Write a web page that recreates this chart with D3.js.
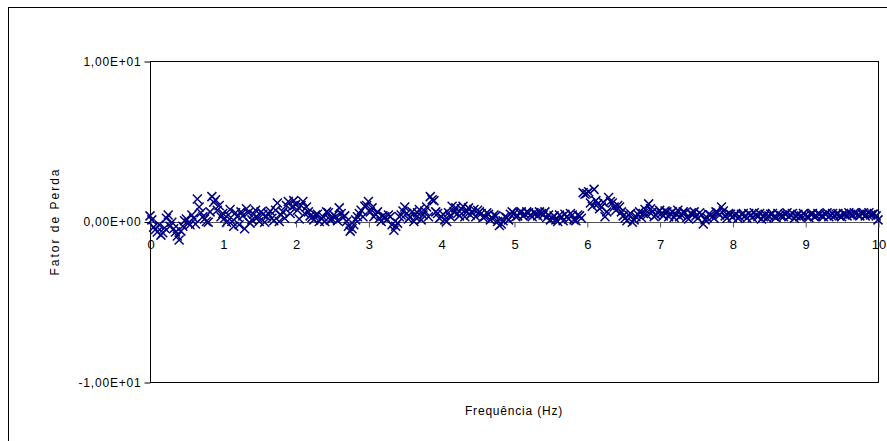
<!DOCTYPE html>
<html>
<head>
<meta charset="utf-8">
<script src="https://cdn.jsdelivr.net/npm/d3@7"></script>
<style>
  html, body { margin: 0; padding: 0; background: #fff; }
  svg { display: block; }
  text { font-family: Arial, "Liberation Sans", sans-serif; fill: #000; }
</style>
</head>
<body>
<svg id="chart" width="887" height="441"></svg>
<script>
// ---- data ----
const freq = [
  0.000,0.025,0.050,0.075,0.100,0.125,0.150,0.175,0.200,0.225,0.250,0.275,0.300,0.325,0.350,0.375,0.400,0.425,0.450,0.475,
  0.500,0.525,0.550,0.575,0.600,0.625,0.650,0.675,0.700,0.725,0.750,0.775,0.800,0.825,0.850,0.875,0.900,0.925,0.950,0.975,
  1.000,1.025,1.050,1.075,1.100,1.125,1.150,1.175,1.200,1.225,1.250,1.275,1.300,1.325,1.350,1.375,1.400,1.425,1.450,1.475,
  1.500,1.525,1.550,1.575,1.600,1.625,1.650,1.675,1.700,1.725,1.750,1.775,1.800,1.825,1.850,1.875,1.900,1.925,1.950,1.975,
  2.000,2.025,2.050,2.075,2.100,2.125,2.150,2.175,2.200,2.225,2.250,2.275,2.300,2.325,2.350,2.375,2.400,2.425,2.450,2.475,
  2.500,2.525,2.550,2.575,2.600,2.625,2.650,2.675,2.700,2.725,2.750,2.775,2.800,2.825,2.850,2.875,2.900,2.925,2.950,2.975,
  3.000,3.025,3.050,3.075,3.100,3.125,3.150,3.175,3.200,3.225,3.250,3.275,3.300,3.325,3.350,3.375,3.400,3.425,3.450,3.475,
  3.500,3.525,3.550,3.575,3.600,3.625,3.650,3.675,3.700,3.725,3.750,3.775,3.800,3.825,3.850,3.875,3.900,3.925,3.950,3.975,
  4.000,4.025,4.050,4.075,4.100,4.125,4.150,4.175,4.200,4.225,4.250,4.275,4.300,4.325,4.350,4.375,4.400,4.425,4.450,4.475,
  4.500,4.525,4.550,4.575,4.600,4.625,4.650,4.675,4.700,4.725,4.750,4.775,4.800,4.825,4.850,4.875,4.900,4.925,4.950,4.975,
  5.000,5.025,5.050,5.075,5.100,5.125,5.150,5.175,5.200,5.225,5.250,5.275,5.300,5.325,5.350,5.375,5.400,5.425,5.450,5.475,
  5.500,5.525,5.550,5.575,5.600,5.625,5.650,5.675,5.700,5.725,5.750,5.775,5.800,5.825,5.850,5.875,5.900,5.925,5.950,5.975,
  6.000,6.025,6.050,6.075,6.100,6.125,6.150,6.175,6.200,6.225,6.250,6.275,6.300,6.325,6.350,6.375,6.400,6.425,6.450,6.475,
  6.500,6.525,6.550,6.575,6.600,6.625,6.650,6.675,6.700,6.725,6.750,6.775,6.800,6.825,6.850,6.875,6.900,6.925,6.950,6.975,
  7.000,7.025,7.050,7.075,7.100,7.125,7.150,7.175,7.200,7.225,7.250,7.275,7.300,7.325,7.350,7.375,7.400,7.425,7.450,7.475,
  7.500,7.525,7.550,7.575,7.600,7.625,7.650,7.675,7.700,7.725,7.750,7.775,7.800,7.825,7.850,7.875,7.900,7.925,7.950,7.975,
  8.000,8.025,8.050,8.075,8.100,8.125,8.150,8.175,8.200,8.225,8.250,8.275,8.300,8.325,8.350,8.375,8.400,8.425,8.450,8.475,
  8.500,8.525,8.550,8.575,8.600,8.625,8.650,8.675,8.700,8.725,8.750,8.775,8.800,8.825,8.850,8.875,8.900,8.925,8.950,8.975,
  9.000,9.025,9.050,9.075,9.100,9.125,9.150,9.175,9.200,9.225,9.250,9.275,9.300,9.325,9.350,9.375,9.400,9.425,9.450,9.475,
  9.500,9.525,9.550,9.575,9.600,9.625,9.650,9.675,9.700,9.725,9.750,9.775,9.800,9.825,9.850,9.875,9.900,9.925,9.950,9.975,
  10.000
];
const lossFactor = [
  0.35,0.10,-0.35,-0.50,-0.65,-0.20,-0.85,-0.70,-0.40,0.20,0.40,-0.30,-0.05,-0.45,-0.65,-0.90,-1.15,-0.60,-0.30,0.05,
  0.15,-0.10,-0.20,0.40,0.20,-0.15,1.40,0.90,0.55,0.30,0.15,0.00,-0.05,0.60,1.55,1.20,1.35,0.70,1.00,0.30,
  0.50,0.20,-0.05,0.40,0.75,0.00,-0.30,0.55,0.30,-0.20,0.60,0.35,-0.45,0.80,0.55,-0.10,0.10,0.45,0.70,0.25,
  0.00,0.60,0.45,-0.05,0.30,0.50,0.65,0.20,0.05,0.70,1.15,0.00,0.40,0.60,0.20,1.00,1.25,0.50,0.90,1.30,
  1.05,0.70,0.15,1.00,1.25,0.50,0.90,0.60,0.35,0.25,0.10,0.40,0.45,0.00,0.20,0.30,0.00,0.60,0.55,0.10,
  0.15,0.40,0.30,0.05,0.85,0.50,0.25,0.35,0.00,-0.30,-0.60,-0.45,-0.20,0.10,0.30,0.50,0.70,0.30,0.95,1.00,
  1.25,0.60,0.85,0.30,0.45,0.60,0.20,0.00,0.35,0.30,0.10,0.40,0.30,-0.20,-0.55,-0.30,-0.10,0.30,0.40,0.65,
  0.90,0.50,0.15,0.30,0.60,0.00,0.25,0.55,0.75,0.10,0.40,0.65,0.90,0.30,1.55,1.35,1.30,0.60,0.50,0.20,
  0.30,0.45,0.10,0.00,0.55,0.30,0.95,0.60,0.85,0.50,0.35,0.80,0.95,0.30,0.60,0.85,0.40,0.55,0.75,0.30,
  0.70,0.60,0.50,0.25,0.30,0.55,0.45,0.10,0.20,0.40,0.35,0.00,-0.25,-0.15,0.05,0.30,0.25,0.10,0.45,0.60,
  0.50,0.30,0.35,0.55,0.60,0.35,0.45,0.60,0.55,0.40,0.30,0.55,0.50,0.35,0.60,0.50,0.40,0.60,0.25,0.40,
  0.10,0.20,0.35,0.10,0.00,0.40,0.30,0.05,0.45,0.30,0.15,0.50,0.40,0.10,0.05,0.40,0.35,0.20,1.80,1.70,
  1.75,1.85,1.15,0.95,2.00,1.30,1.10,0.80,0.90,1.20,0.30,0.60,1.50,1.25,1.15,0.90,0.70,1.00,0.90,0.60,
  0.35,0.20,0.05,0.40,0.50,-0.05,0.10,0.30,0.45,0.60,0.25,0.50,0.75,0.40,1.10,0.80,0.60,0.30,0.40,0.55,
  0.70,0.50,0.35,0.65,0.60,0.30,0.50,0.60,0.25,0.45,0.70,0.30,0.40,0.60,0.55,0.25,0.15,0.50,0.45,0.60,
  0.35,0.20,0.55,0.40,-0.15,0.10,0.25,0.45,0.40,0.30,0.20,0.60,0.55,0.40,0.90,0.65,0.35,0.20,0.50,0.45,
  0.25,0.40,0.45,0.20,0.30,0.45,0.50,0.35,0.20,0.50,0.40,0.25,0.55,0.40,0.30,0.50,0.15,0.30,0.45,0.20,
  0.35,0.45,0.50,0.30,0.25,0.50,0.40,0.35,0.30,0.45,0.55,0.30,0.40,0.50,0.20,0.35,0.45,0.30,0.35,0.50,
  0.40,0.30,0.25,0.45,0.50,0.30,0.35,0.50,0.45,0.35,0.30,0.45,0.55,0.30,0.40,0.50,0.35,0.45,0.50,0.35,
  0.30,0.50,0.45,0.35,0.55,0.45,0.40,0.55,0.50,0.40,0.35,0.50,0.55,0.35,0.45,0.55,0.40,0.45,0.50,0.35,
  0.10
];
const xTicks = [0,1,2,3,4,5,6,7,8,9,10];
const yTicks = [-10, 0, 10];
const yTickLabels = ["-1,00E+01", "0,00E+00", "1,00E+01"];
const xTitle = "Frequência (Hz)";
const yTitle = "Fator de Perda";

// ---- layout ----
const svg = d3.select("#chart");
const plot = { left: 150, top: 61, right: 878, bottom: 382 };

const x = d3.scaleLinear().domain([0, 10]).range([plot.left, plot.right]);
const y = d3.scaleLinear().domain([-10, 10]).range([plot.bottom, plot.top]);

// outer chart border (extends past the window on right/bottom)
svg.append("rect")
  .attr("x", 8.5).attr("y", 7.5)
  .attr("width", 1000).attr("height", 1000)
  .attr("fill", "none").attr("stroke", "#000").attr("stroke-width", 1);

// plot area frame
svg.append("rect")
  .attr("x", plot.left + 0.5).attr("y", plot.top + 0.5)
  .attr("width", plot.right - plot.left).attr("height", plot.bottom - plot.top)
  .attr("fill", "#fff").attr("stroke", "#000").attr("stroke-width", 1);

// y axis
const yAxis = d3.axisLeft(y)
  .tickValues(yTicks)
  .tickSize(6)
  .tickPadding(3)
  .tickFormat((d, i) => yTickLabels[i]);
const gy = svg.append("g")
  .attr("transform", `translate(${plot.left + 0.5},0.5)`)
  .call(yAxis);
gy.select(".domain").remove();
gy.selectAll(".tick line").attr("stroke", "#000");
gy.selectAll(".tick text")
  .attr("font-size", 12)
  .attr("letter-spacing", "0.8px")
  .attr("font-family", "Arial, 'Liberation Sans', sans-serif");

// x axis along zero line
const xAxis = d3.axisBottom(x)
  .tickValues(xTicks)
  .tickSize(5)
  .tickPadding(12)
  .tickFormat(d3.format("d"));
const gx = svg.append("g")
  .attr("transform", `translate(0.5,${Math.round(y(0)) + 0.5})`)
  .call(xAxis);
gx.select(".domain").attr("stroke", "#555").attr("d", `M${plot.left},0H${plot.right}`);
gx.selectAll(".tick line").attr("stroke", "#555");
gx.selectAll(".tick text")
  .attr("font-size", 13)
  .attr("font-family", "Arial, 'Liberation Sans', sans-serif");

// markers (x shape)
const data = freq.map((f, i) => ({ f, v: lossFactor[i] }));
const s = 4.5;
svg.append("g")
  .selectAll("path")
  .data(data)
  .join("path")
  .attr("d", d => {
    const cx = x(d.f), cy = y(d.v);
    return `M${cx - s},${cy - s}L${cx + s},${cy + s}M${cx - s},${cy + s}L${cx + s},${cy - s}`;
  })
  .attr("fill", "none")
  .attr("stroke", "#000080")
  .attr("stroke-width", 1.5);

// axis titles
svg.append("text")
  .attr("x", (plot.left + plot.right) / 2)
  .attr("y", 415)
  .attr("text-anchor", "middle")
  .attr("font-size", 12)
  .attr("letter-spacing", "0.8px")
  .text(xTitle);

svg.append("text")
  .attr("transform", `translate(59,${y(0)}) rotate(-90)`)
  .attr("text-anchor", "middle")
  .attr("font-size", 12)
  .attr("letter-spacing", "2px")
  .text(yTitle);
</script>
</body>
</html>
